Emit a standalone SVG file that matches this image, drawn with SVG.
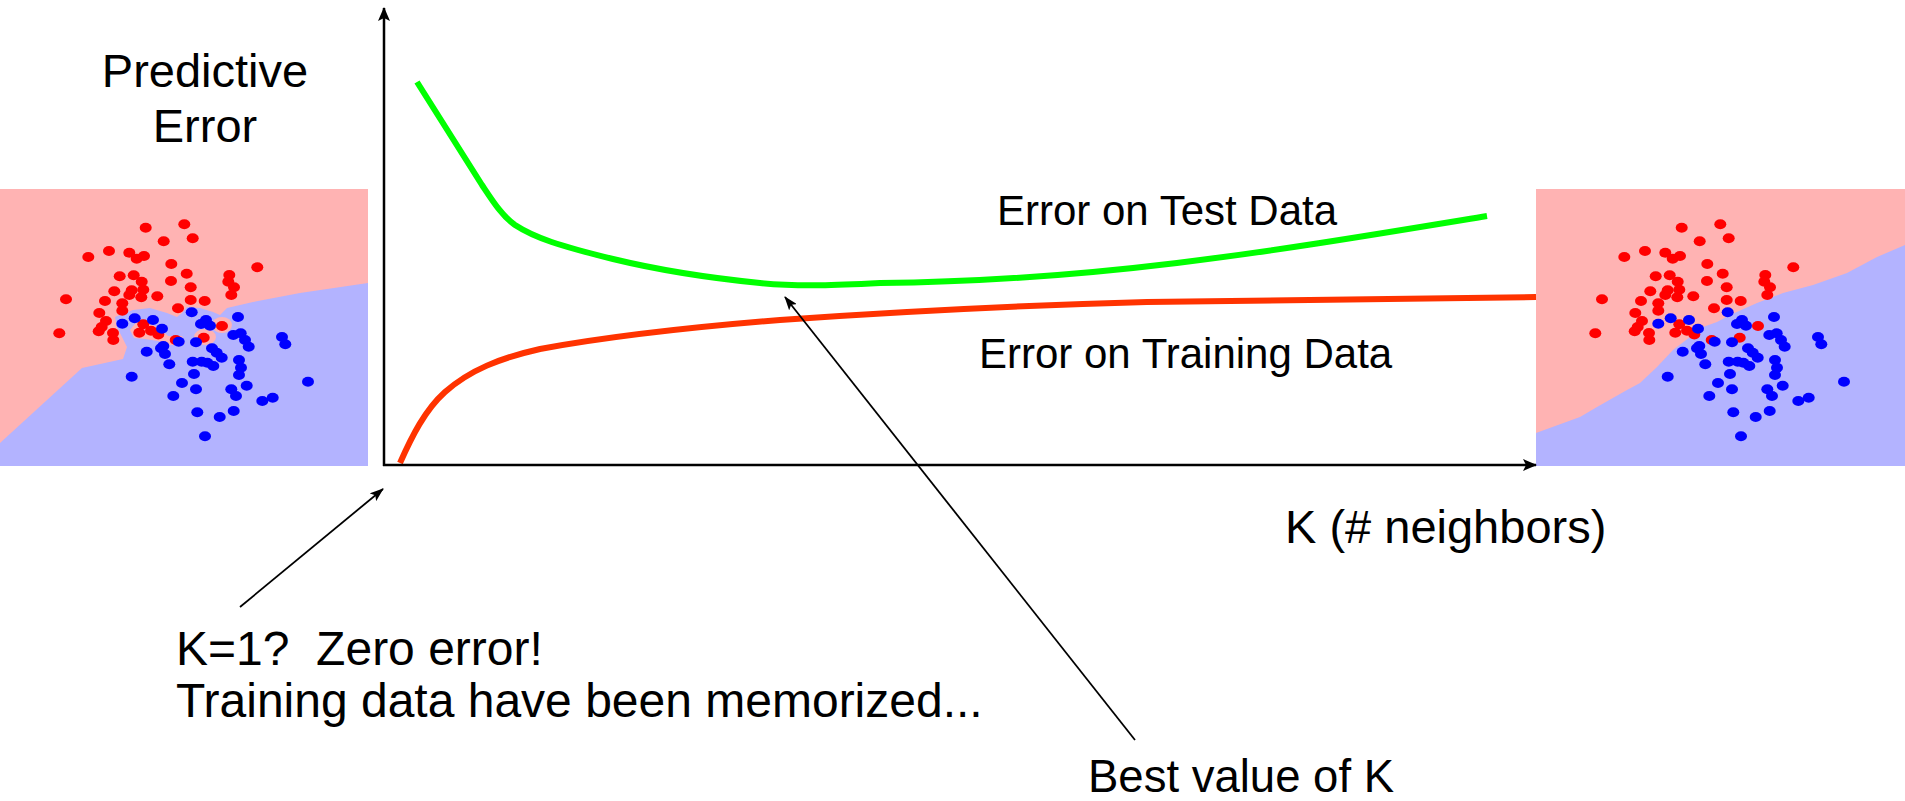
<svg xmlns="http://www.w3.org/2000/svg" xmlns:xlink="http://www.w3.org/1999/xlink" width="1905" height="801" viewBox="0 0 1905 801">
<style>
.lbl{font-family:"Liberation Sans",Arial,sans-serif;fill:#000}
.axis{stroke:#000;stroke-width:2.5;fill:none}
.lead{stroke:#000;stroke-width:1.8;fill:none}
.pink{fill:#FFB3B3}
.blue{fill:#B3B3FF}
.rd{fill:#FF0000}
.bd{fill:#0000FF}
.test{stroke:#00FF00;stroke-width:6;fill:none;stroke-linejoin:round}
.train{stroke:#FF3300;stroke-width:6;fill:none;stroke-linejoin:round}
</style>
<defs>
<marker id="axhead" markerUnits="userSpaceOnUse" markerWidth="14" markerHeight="12" refX="13" refY="6" orient="auto">
<path d="M0,0 L14,6 L0,12 L3,6 z" fill="#000"/>
</marker>
<marker id="ldhead" markerUnits="userSpaceOnUse" markerWidth="14" markerHeight="10" refX="13" refY="5" orient="auto">
<path d="M0,0 L14,5 L0,10 L3,5 z" fill="#000"/>
</marker>
<g id="dots">
<g class="rd">
<ellipse cx="145.7" cy="227.7" rx="6" ry="5"/><ellipse cx="184.3" cy="224.3" rx="6" ry="5"/><ellipse cx="163.7" cy="241.3" rx="6" ry="5"/><ellipse cx="192.7" cy="238.3" rx="6" ry="5"/>
<ellipse cx="88.3" cy="257" rx="6" ry="5"/><ellipse cx="109" cy="251" rx="6" ry="5"/><ellipse cx="129.3" cy="252.7" rx="6" ry="5"/><ellipse cx="136.7" cy="258.7" rx="6" ry="5"/>
<ellipse cx="144" cy="256" rx="6" ry="5"/><ellipse cx="171.3" cy="264" rx="6" ry="5"/><ellipse cx="257.3" cy="267.3" rx="6" ry="5"/><ellipse cx="119.7" cy="276.3" rx="6" ry="5"/>
<ellipse cx="133.7" cy="275.3" rx="6" ry="5"/><ellipse cx="141.7" cy="281.7" rx="6" ry="5"/><ellipse cx="171" cy="281" rx="6" ry="5"/><ellipse cx="186.7" cy="273.7" rx="6" ry="5"/>
<ellipse cx="229.3" cy="275" rx="6" ry="5"/><ellipse cx="228.3" cy="281.7" rx="6" ry="5"/><ellipse cx="234" cy="287.3" rx="6" ry="5"/><ellipse cx="231.3" cy="295" rx="6" ry="5"/>
<ellipse cx="114.3" cy="291.3" rx="6" ry="5"/><ellipse cx="131.7" cy="290.3" rx="6" ry="5"/><ellipse cx="129.3" cy="295" rx="6" ry="5"/><ellipse cx="143.3" cy="289.7" rx="6" ry="5"/>
<ellipse cx="141.3" cy="297.3" rx="6" ry="5"/><ellipse cx="157.3" cy="296.3" rx="6" ry="5"/><ellipse cx="190.7" cy="287.3" rx="6" ry="5"/><ellipse cx="66" cy="299.3" rx="6" ry="5"/>
<ellipse cx="105" cy="301" rx="6" ry="5"/><ellipse cx="122.3" cy="303.3" rx="6" ry="5"/><ellipse cx="122.3" cy="310.7" rx="6" ry="5"/><ellipse cx="99.3" cy="313" rx="6" ry="5"/>
<ellipse cx="190.7" cy="300" rx="6" ry="5"/><ellipse cx="204.7" cy="301" rx="6" ry="5"/><ellipse cx="178" cy="308.3" rx="6" ry="5"/><ellipse cx="106" cy="321" rx="6" ry="5"/>
<ellipse cx="101.7" cy="327" rx="6" ry="5"/><ellipse cx="98.7" cy="331.3" rx="6" ry="5"/><ellipse cx="113" cy="333" rx="6" ry="5"/><ellipse cx="113.3" cy="340" rx="6" ry="5"/>
<ellipse cx="59.3" cy="333.3" rx="6" ry="5"/><ellipse cx="143.3" cy="324.3" rx="6" ry="5"/><ellipse cx="139.3" cy="332.7" rx="6" ry="5"/><ellipse cx="151" cy="330.7" rx="6" ry="5"/>
<ellipse cx="158.3" cy="334.5" rx="6" ry="5"/><ellipse cx="175.7" cy="340" rx="6" ry="5"/><ellipse cx="203.7" cy="337.7" rx="6" ry="5"/><ellipse cx="222" cy="326" rx="6" ry="5"/>
</g>
<g class="bd">
<ellipse cx="122.3" cy="323.7" rx="6" ry="5"/><ellipse cx="134.7" cy="318.3" rx="6" ry="5"/><ellipse cx="153" cy="320" rx="6" ry="5"/><ellipse cx="162" cy="328.7" rx="6" ry="5"/>
<ellipse cx="191.7" cy="312.3" rx="6" ry="5"/><ellipse cx="206" cy="320" rx="6" ry="5"/><ellipse cx="201" cy="324" rx="6" ry="5"/><ellipse cx="210" cy="325.7" rx="6" ry="5"/>
<ellipse cx="238" cy="317" rx="6" ry="5"/><ellipse cx="178.7" cy="341.7" rx="6" ry="5"/><ellipse cx="196" cy="342.3" rx="6" ry="5"/><ellipse cx="163.3" cy="346" rx="6" ry="5"/>
<ellipse cx="161" cy="348.3" rx="6" ry="5"/><ellipse cx="165" cy="354" rx="6" ry="5"/><ellipse cx="146.7" cy="351.7" rx="6" ry="5"/><ellipse cx="233.3" cy="335" rx="6" ry="5"/>
<ellipse cx="240.7" cy="333.3" rx="6" ry="5"/><ellipse cx="245" cy="340" rx="6" ry="5"/><ellipse cx="248.7" cy="346.7" rx="6" ry="5"/><ellipse cx="282" cy="337" rx="6" ry="5"/>
<ellipse cx="285.3" cy="344.3" rx="6" ry="5"/><ellipse cx="212" cy="348.3" rx="6" ry="5"/><ellipse cx="216.7" cy="352.7" rx="6" ry="5"/><ellipse cx="221.7" cy="357.7" rx="6" ry="5"/>
<ellipse cx="192.7" cy="361.7" rx="6" ry="5"/><ellipse cx="201.7" cy="361.7" rx="6" ry="5"/><ellipse cx="207.3" cy="362.7" rx="6" ry="5"/><ellipse cx="213.3" cy="366" rx="6" ry="5"/>
<ellipse cx="169.3" cy="364.3" rx="6" ry="5"/><ellipse cx="239" cy="360" rx="6" ry="5"/><ellipse cx="241" cy="367.7" rx="6" ry="5"/><ellipse cx="239" cy="375" rx="6" ry="5"/>
<ellipse cx="194" cy="374" rx="6" ry="5"/><ellipse cx="131.7" cy="376.7" rx="6" ry="5"/><ellipse cx="182" cy="383" rx="6" ry="5"/><ellipse cx="196" cy="389.3" rx="6" ry="5"/>
<ellipse cx="246.7" cy="385.7" rx="6" ry="5"/><ellipse cx="231.3" cy="389.3" rx="6" ry="5"/><ellipse cx="236" cy="396" rx="6" ry="5"/><ellipse cx="173.3" cy="396" rx="6" ry="5"/>
<ellipse cx="262.3" cy="401" rx="6" ry="5"/><ellipse cx="272.7" cy="397.7" rx="6" ry="5"/><ellipse cx="308" cy="381.7" rx="6" ry="5"/><ellipse cx="197.3" cy="412.3" rx="6" ry="5"/>
<ellipse cx="233.7" cy="411" rx="6" ry="5"/><ellipse cx="219.7" cy="417" rx="6" ry="5"/><ellipse cx="205" cy="436.3" rx="6" ry="5"/>
</g>
</g>
</defs>

<g id="plot-k1">
<rect class="pink" x="0" y="189" width="368" height="277"/>
<polygon class="blue" points="0,443 82,368 123,359 127,347 117,327 115,317 133,310 150,308 167,313 177,317 182,313 187,307 200,308 213,312 220,315 227,308 253,302 300,293 368,283 368,466 0,466"/>
<polygon class="pink" points="130,330 138,320 150,324 160,328 168,336 182,336 185,344 170,345 158,341 145,339 134,338"/>
<ellipse class="pink" cx="205" cy="337" rx="11" ry="8"/>
<ellipse class="pink" cx="222" cy="325" rx="10" ry="8"/>
<use xlink:href="#dots" href="#dots"/>
</g>

<g id="plot-klarge">
<rect class="pink" x="1536" y="189" width="369" height="277"/>
<polygon class="blue" transform="translate(1536,0)" points="0,433 44,417 61,407 91,390 104,383 121,367 137,350 154,337 167,327 181,322 194,315 221,303 247,293 277,285 311,273 341,257 369,245 369,466 0,466"/>
<use xlink:href="#dots" href="#dots" x="1536" y="0"/>
</g>

<g id="curves">
<path id="test-curve" class="test" d="M417,82 L482,185 C492,200 502,216 515,225 C535,238 560,246 613,259 C650,268 700,277 760,283 C800,287 840,285 880,283 C1100,281 1280,250 1487,216"/>
<path id="train-curve" class="train" d="M400,463 C412,436 425,410 445,392 C470,370 500,358 540,349 C600,338 680,328 780,320 C880,313 1000,306 1147,302 C1300,299 1450,297 1536,297"/>
</g>

<g id="axes">
<line class="axis" x1="384" y1="466" x2="384" y2="8" marker-end="url(#axhead)"/>
<line class="axis" x1="383" y1="465" x2="1536" y2="465" marker-end="url(#axhead)"/>
</g>

<g id="connectors">
<line class="lead" x1="240" y1="607" x2="383" y2="489" marker-end="url(#ldhead)"/>
<line class="lead" x1="1135" y1="740" x2="785" y2="297" marker-end="url(#ldhead)"/>
</g>

<g id="labels">
<text class="lbl" x="205" y="87" font-size="47" text-anchor="middle">Predictive</text>
<text class="lbl" x="205" y="142" font-size="47" text-anchor="middle">Error</text>
<text class="lbl" x="997" y="225" font-size="42">Error on Test Data</text>
<text class="lbl" x="979" y="368" font-size="42">Error on Training Data</text>
<text class="lbl" x="1285" y="543" font-size="47">K (# neighbors)</text>
<text class="lbl" x="176" y="665" font-size="48" style="white-space:pre">K=1?  Zero error!</text>
<text class="lbl" x="176" y="717" font-size="48">Training data have been memorized...</text>
<text class="lbl" x="1088" y="792" font-size="45.5">Best value of K</text>
</g>
</svg>
